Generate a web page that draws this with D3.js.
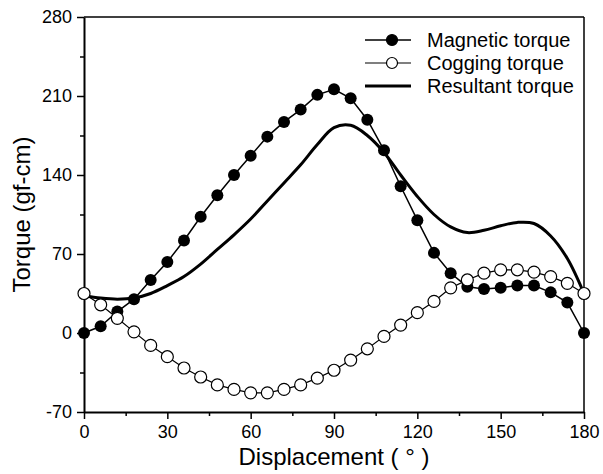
<!DOCTYPE html>
<html lang="en">
<head>
<meta charset="UTF-8">
<title>Torque vs displacement</title>
<style>
    body { margin: 0; background: #fff; }
    svg { display: block; font-family: Arial, "Liberation Sans", sans-serif; }
</style>
</head>
<body>
<svg width="603" height="474"></svg>
<script src="https://d3js.org/d3.v7.min.js"></script>
<script>
    // displacement (deg)
    const displacement = [0, 6, 12, 18, 24, 30, 36, 42, 48, 54, 60, 66, 72, 78, 84, 90,
        96, 102, 108, 114, 120, 126, 132, 138, 144, 150, 156, 162, 168, 174, 180];
    const magnetic = [0, 6, 19, 30, 47, 63, 82, 103, 122, 140, 157, 174, 187, 198, 211, 216,
        208, 189, 162, 130, 100, 71, 53, 41, 39, 40, 42, 42, 36, 27, 0];
    const cogging = [35, 25, 13, 1, -11, -21, -31, -39, -46, -50, -53, -53, -50, -46, -40, -33,
        -24, -14, -3, 7, 18, 28, 40, 47, 53, 56, 56, 54, 50, 44, 35];
    const resultant = [33, 31, 30, 31, 35, 42, 50, 61, 74, 87, 101, 117, 133, 149, 167, 182,
        184, 175, 160, 140, 121, 105, 94, 89, 91, 95, 98, 97, 86, 66, 35];

    const xTicks = [0, 30, 60, 90, 120, 150, 180];
    const yTicks = [-70, 0, 70, 140, 210, 280];
    const legendNames = ["Magnetic torque", "Cogging torque", "Resultant torque"];

    const svg = d3.select("svg");
    const mLeft = 84, mRight = 584, mTop = 17, mBottom = 412;

    const x = d3.scaleLinear().domain([0, 180]).range([mLeft, mRight]);
    const y = d3.scaleLinear().domain([-70, 280]).range([mBottom, mTop]);

    // frame (top / right)
    svg.append("line").attr("x1", mLeft).attr("x2", mRight).attr("y1", mTop).attr("y2", mTop)
        .attr("stroke", "#000").attr("stroke-width", 1.5);
    svg.append("line").attr("x1", mRight).attr("x2", mRight).attr("y1", mTop).attr("y2", mBottom)
        .attr("stroke", "#000").attr("stroke-width", 1.5);

    // minor ticks
    const gx2 = svg.append("g").attr("transform", `translate(0,${mBottom})`)
        .call(d3.axisBottom(x).tickValues(d3.range(15, 180, 30)).tickSize(4).tickFormat(""));
    const gy2 = svg.append("g").attr("transform", `translate(${mLeft},0)`)
        .call(d3.axisLeft(y).tickValues(d3.range(-35, 280, 70)).tickSize(4).tickFormat(""));
    [gx2, gy2].forEach(g => {
        g.select(".domain").remove();
        g.selectAll("line").attr("stroke-width", 1.5);
    });

    const gx = svg.append("g").attr("transform", `translate(0,${mBottom})`)
        .call(d3.axisBottom(x).tickValues(xTicks).tickSize(7).tickSizeOuter(0).tickPadding(6));
    const gy = svg.append("g").attr("transform", `translate(${mLeft},0)`)
        .call(d3.axisLeft(y).tickValues(yTicks).tickSize(7).tickSizeOuter(0).tickPadding(5)
            .tickFormat(d => String(d)));
    [gx, gy].forEach(g => {
        g.select(".domain").attr("stroke-width", 2);
        g.selectAll(".tick line").attr("stroke-width", 1.5);
        g.selectAll("text").attr("font-size", 18).attr("font-family", "Arial, 'Liberation Sans', sans-serif")
            .attr("fill", "#000");
    });

    // axis titles
    svg.append("text").attr("x", (mLeft + mRight) / 2).attr("y", 465)
        .attr("text-anchor", "middle").attr("font-size", 24)
        .text("Displacement ( ° )");
    svg.append("text").attr("transform", `translate(30,${(mTop + mBottom) / 2}) rotate(-90)`)
        .attr("text-anchor", "middle").attr("font-size", 24)
        .text("Torque (gf-cm)");

    const pts = arr => displacement.map((d, i) => [d, arr[i]]);

    // resultant torque
    svg.append("path").datum(pts(resultant))
        .attr("fill", "none").attr("stroke", "#000").attr("stroke-width", 3)
        .attr("d", d3.line().x(d => x(d[0])).y(d => y(d[1])).curve(d3.curveCatmullRom));

    // magnetic torque
    svg.append("path").datum(pts(magnetic))
        .attr("fill", "none").attr("stroke", "#000").attr("stroke-width", 1.5)
        .attr("d", d3.line().x(d => x(d[0])).y(d => y(d[1])));
    svg.append("g").selectAll("circle").data(pts(magnetic)).enter().append("circle")
        .attr("cx", d => x(d[0])).attr("cy", d => y(d[1])).attr("r", 6)
        .attr("fill", "#000");

    // cogging torque
    svg.append("path").datum(pts(cogging))
        .attr("fill", "none").attr("stroke", "#000").attr("stroke-width", 1.2)
        .attr("d", d3.line().x(d => x(d[0])).y(d => y(d[1])));
    svg.append("g").selectAll("circle").data(pts(cogging)).enter().append("circle")
        .attr("cx", d => x(d[0])).attr("cy", d => y(d[1])).attr("r", 6)
        .attr("fill", "#fff").attr("stroke", "#000").attr("stroke-width", 1.2);

    // legend
    const legend = svg.append("g");
    legendNames.forEach((name, i) => {
        const ly = 40 + i * 23;
        legend.append("line").attr("x1", 365).attr("x2", 411).attr("y1", ly).attr("y2", ly)
            .attr("stroke", "#000").attr("stroke-width", i === 2 ? 3 : (i === 0 ? 1.5 : 1.2));
        if (i < 2) {
            legend.append("circle").attr("cx", 392).attr("cy", ly).attr("r", 5.5)
                .attr("fill", i === 0 ? "#000" : "#fff").attr("stroke", "#000").attr("stroke-width", 1.2);
        }
        legend.append("text").attr("x", 427).attr("y", ly + 7).attr("font-size", 20).text(name);
    });
</script>
</body>
</html>
